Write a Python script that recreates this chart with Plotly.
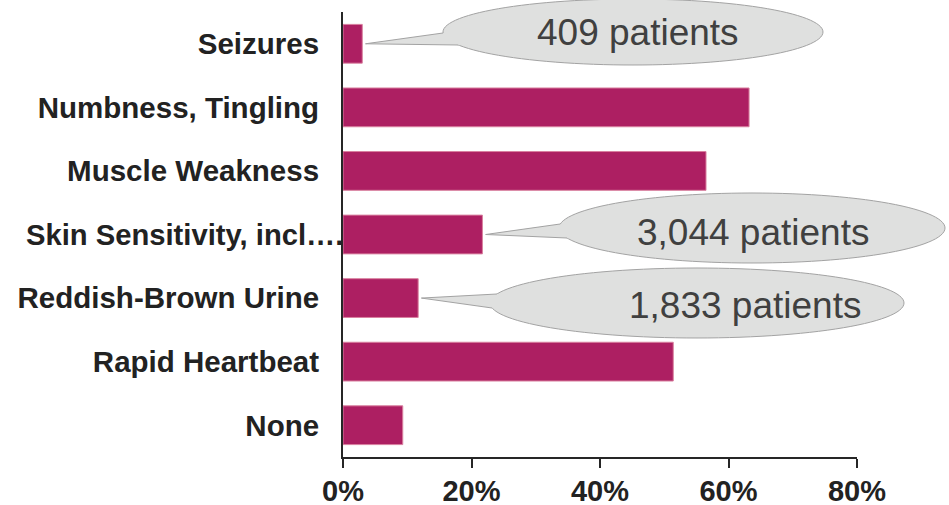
import numpy as np
import plotly.graph_objects as go

# data
symptoms = ["Seizures", "Numbness, Tingling", "Muscle Weakness",
            "Skin Sensitivity, incl….", "Reddish-Brown Urine",
            "Rapid Heartbeat", "None"]
pct_patients = [3.0, 63.2, 56.5, 21.7, 11.7, 51.4, 9.3]
x_ticks = [0, 20, 40, 60, 80]
x_tick_labels = ["0%", "20%", "40%", "60%", "80%"]
callout_symptoms = ["Seizures", "Skin Sensitivity, incl….", "Reddish-Brown Urine"]
callout_texts = ["409 patients", "3,044 patients", "1,833 patients"]

W, H = 949, 505
ML, MR, MT, MB = 343, 92, 12, 48
PW, PH = W - ML - MR, H - MT - MB
X_MAX = 80

BAR = "#ad1f62"
FONT = "Arial, Liberation Sans, sans-serif"

# balloon styling in pixels: ellipse centre, radii, text centre, tail base offsets
balloons = [
    dict(cx=633, cy=32, rx=190, ry=33, tx=638, ty=33, dy=(1, 13)),
    dict(cx=752, cy=228, rx=193, ry=35, tx=753, ty=232, dy=(-4, 10)),
    dict(cx=697, cy=303, rx=207, ry=35, tx=745, ty=305, dy=(-9, 5)),
]


def to_paper(px, py):
    return (px - ML) / PW, (H - MB - py) / PH


def path_of(points, close=True):
    pts = [to_paper(x, y) for x, y in points]
    s = "M " + " L ".join(f"{x:.5f},{y:.5f}" for x, y in pts)
    return s + (" Z" if close else "")


fig = go.Figure(go.Bar(
    x=pct_patients, y=symptoms, orientation="h", width=0.61,
    marker=dict(color=BAR, line=dict(color="#d9809f", width=1)),
    hoverinfo="skip",
))

shapes, annotations = [], []
n = len(symptoms)
for name, txt, b in zip(callout_symptoms, callout_texts, balloons):
    i = symptoms.index(name)
    val = pct_patients[i]
    tip = (ML + (val + 0.5) / X_MAX * PW, MT + (i + 0.5) / n * PH)

    t = np.linspace(0, 2 * np.pi, 121)
    ell = list(zip(b["cx"] + b["rx"] * np.cos(t), b["cy"] + b["ry"] * np.sin(t)))
    shapes.append(dict(type="path", xref="paper", yref="paper", layer="above",
                       path=path_of(ell), fillcolor="#dfe0df",
                       line=dict(color="#a3a3a3", width=1)))

    base = []
    for d in b["dy"]:
        bx = b["cx"] - b["rx"] * np.sqrt(1 - (d / b["ry"]) ** 2)
        base.append((bx, b["cy"] + d))
    inner = [(x + 6, y) for x, y in base]
    shapes.append(dict(type="path", xref="paper", yref="paper", layer="above",
                       path=path_of([tip, base[0], inner[0], inner[1], base[1]]),
                       fillcolor="#dfe0df", line=dict(width=0)))
    shapes.append(dict(type="path", xref="paper", yref="paper", layer="above",
                       path=path_of([base[0], tip, base[1]], close=False),
                       line=dict(color="#a3a3a3", width=1)))

    tx, ty = to_paper(b["tx"], b["ty"])
    annotations.append(dict(x=tx, y=ty, xref="paper", yref="paper", text=txt,
                            showarrow=False, xanchor="center", yanchor="middle",
                            font=dict(family=FONT, size=37, color="#404040")))

# the long label overruns its slot and runs up to the axis
long_label = symptoms[3]
annotations.append(dict(x=2 / PW, y=long_label, xref="paper", yref="y",
                        text=f"<b>{long_label}</b>", showarrow=False,
                        xanchor="right", yanchor="middle",
                        font=dict(family=FONT, size=29.2, color="#222222")))

fig.update_layout(
    width=W, height=H,
    margin=dict(l=ML, r=MR, t=MT, b=MB, pad=0),
    plot_bgcolor="white", paper_bgcolor="white",
    showlegend=False, bargap=0.39,
    shapes=shapes, annotations=annotations,
    font=dict(family=FONT, color="#222222"),
)
fig.update_xaxes(
    range=[0, X_MAX], tickvals=x_ticks, ticktext=[f"<b>{s}</b>" for s in x_tick_labels],
    showgrid=False, zeroline=False, showline=True, linecolor="#262626", linewidth=2,
    ticks="outside", ticklen=9, tickwidth=2, tickcolor="#262626", automargin=False,
    ticklabelstandoff=-2,
    tickfont=dict(family=FONT, size=29, color="#222222"), fixedrange=True,
)
fig.update_yaxes(
    categoryorder="array", categoryarray=symptoms, autorange="reversed",
    tickvals=symptoms,
    ticktext=["" if s == long_label else f"<b>{s}</b>" for s in symptoms],
    showgrid=False, zeroline=False, showline=True, linecolor="#262626", linewidth=2,
    ticks="", ticklabelstandoff=16, automargin=False,
    tickfont=dict(family=FONT, size=29.5, color="#222222"), fixedrange=True,
)

# drop the browser's default 8px page margin so the figure sits at the corner
fig.write_html("out.html", config={"displayModeBar": False},
               post_script="document.body.style.margin = '0';")
